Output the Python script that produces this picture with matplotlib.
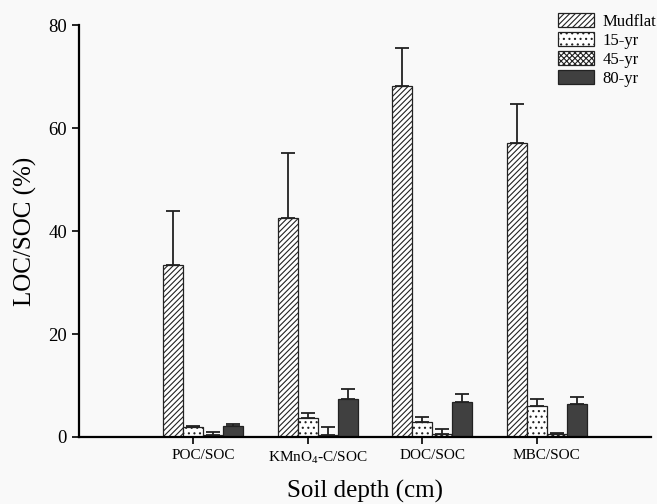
import numpy as np
import matplotlib
matplotlib.use("Agg")
import matplotlib.pyplot as plt

plt.rcParams['font.family'] = ['Liberation Serif', 'DejaVu Serif']
plt.rcParams['mathtext.fontset'] = 'custom'
plt.rcParams['mathtext.rm'] = 'Liberation Serif'
plt.rcParams['hatch.linewidth'] = 0.8

categories = ['POC/SOC', 'KMnO$_4$-C/SOC', 'DOC/SOC', 'MBC/SOC']
series = ['Mudflat', '15-yr', '45-yr', '80-yr']

mudflat = [33.4, 42.6, 68.2, 57.1]
mudflat_err = [10.5, 12.5, 7.3, 7.6]
yr15 = [1.9, 3.7, 3.0, 6.0]
yr15_err = [0.3, 1.0, 0.9, 1.4]
yr45 = [0.3, 0.4, 0.5, 0.5]
yr45_err = [0.7, 1.5, 1.0, 0.3]
yr80 = [2.2, 7.4, 6.8, 6.4]
yr80_err = [0.3, 1.9, 1.5, 1.4]

values = [mudflat, yr15, yr45, yr80]
errors = [mudflat_err, yr15_err, yr45_err, yr80_err]
hatches = ['//////', '...', 'xxxxxx', '']
colors = ['white', 'white', 'white', '#404040']

bg = '#f9f9f9'
fig = plt.figure(figsize=(6.57, 5.04), dpi=100, facecolor=bg)
ax = fig.add_axes([0.120, 0.133, 0.871, 0.817])
ax.set_facecolor(bg)

x = np.arange(len(categories))
width = 0.175
offsets = [-1, 0, 1, 2]

for i in range(4):
    ax.bar(x + offsets[i] * width, values[i], width,
           yerr=[np.zeros(4), errors[i]],
           color=colors[i], edgecolor='#222222', linewidth=0.9,
           hatch=hatches[i], label=series[i],
           error_kw=dict(ecolor='#222222', elinewidth=1.3, capsize=5, capthick=1.3))

ax.set_xlim(-1, 4)
ax.set_ylim(0, 80)
ax.set_yticks([0, 20, 40, 60, 80])

# ticks sit under the 15-yr bar, labels are centred on the group
ax.set_xticks(x)
ax.set_xticklabels([''] * len(categories))
ax.set_xticks(x + 0.5 * width, minor=True)
ax.set_xticklabels(categories, minor=True, fontsize=11)
ax.tick_params(axis='x', which='minor', length=0, pad=9)
ax.tick_params(axis='x', which='major', direction='out', length=5, width=1.2)
ax.tick_params(axis='y', labelsize=13.5, direction='out', length=5, width=1.2)

for side in ['top', 'right']:
    ax.spines[side].set_visible(False)
for side in ['left', 'bottom']:
    ax.spines[side].set_linewidth(1.6)

ax.set_ylabel('LOC/SOC (%)', fontsize=18, labelpad=8)
ax.set_xlabel('Soil depth (cm)', fontsize=18, labelpad=10)

fig.legend(loc='upper right', bbox_to_anchor=(1.022, 1.003), frameon=False,
           fontsize=12, handlelength=2.2, handleheight=0.85,
           labelspacing=0.15, handletextpad=0.5)

fig.savefig('out.png', dpi=100, facecolor=bg)
